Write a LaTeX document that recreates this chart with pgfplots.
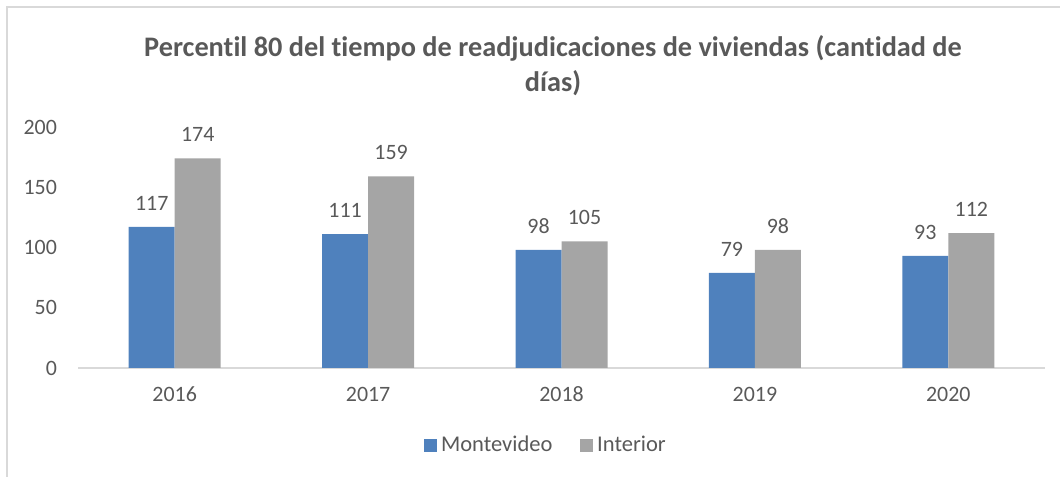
\documentclass[border=0pt]{standalone}
\usepackage{fontspec}
\setmainfont[Ligatures=NoCommon]{Carlito}
\usepackage{pgfplots}
\pgfplotsset{compat=1.18}
\definecolor{mvd}{HTML}{4F81BD}
\definecolor{intr}{HTML}{A5A5A5}
\definecolor{txt}{HTML}{595959}
\definecolor{axl}{HTML}{D9D9D9}
\begin{document}
\begin{tikzpicture}[x=0.5bp,y=0.5bp]
\useasboundingbox (0,0) rectangle (1060,477);
% chart border (only left and top visible in the crop)
\draw[axl,line width=1bp] (7,-5) -- (7,470) -- (1065,470);
\node[txt,font=\fontsize{14.2}{17.5}\selectfont\bfseries,align=center]
  at (553,411) {Percentil 80 del tiempo de readjudicaciones de viviendas (cantidad de\\días)};
\begin{axis}[
    at={(39bp,54.5bp)}, anchor=south west,
    scale only axis,
    width=483.5bp, height=120.5bp,
    ybar=0pt, bar width=23bp,
    xmin=-0.5, xmax=4.5,
    ymin=0, ymax=200,
    ytick={0,50,100,150,200},
    xtick={0,1,2,3,4},
    xticklabels={2016,2017,2018,2019,2020},
    separate axis lines,
    axis x line*=bottom, axis y line*=left,
    x axis line style={axl, line width=1bp, -},
    y axis line style={draw=none},
    major tick length=0pt,
    tick style={draw=none},
    tick label style={txt, font=\fontsize{11}{13}\selectfont},
    /pgf/number format/assume math mode=true,
    xticklabel style={yshift=-6bp},
    yticklabel style={xshift=-7bp},
    nodes near coords,
    every node near coord/.append style={txt, font=\fontsize{11}{13}\selectfont, yshift=4.8bp},
    legend image code/.code={\fill[#1] (0bp,-3.2bp) rectangle (6.4bp,3.2bp);},
    legend style={at={(0.485,-0.32)}, anchor=center, draw=none, fill=none,
        legend columns=2, text=txt, font=\fontsize{11.3}{13}\selectfont,
        /tikz/every even column/.append style={column sep=12bp}},
]
\addplot[fill=mvd, draw=none] coordinates {(0,117) (1,111) (2,98) (3,79) (4,93)};
\addplot[fill=intr, draw=none] coordinates {(0,174) (1,159) (2,105) (3,98) (4,112)};
\legend{Montevideo, Interior}
\end{axis}
\end{tikzpicture}
\end{document}
